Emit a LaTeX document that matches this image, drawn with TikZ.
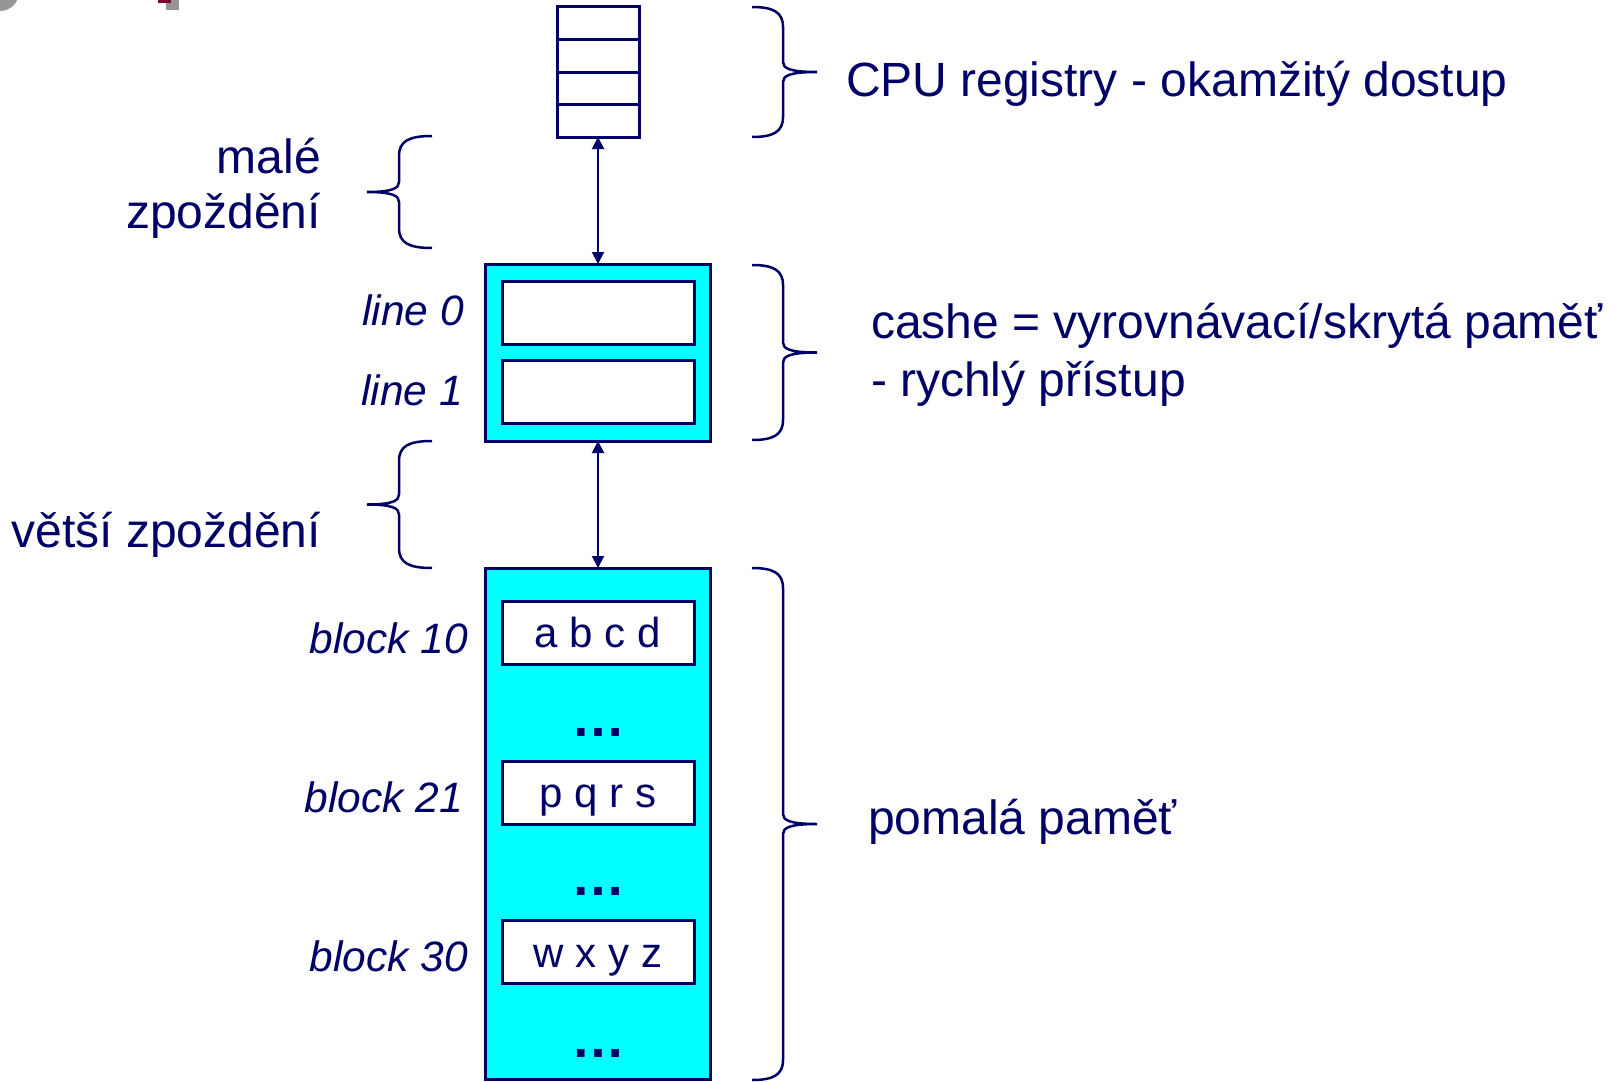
\documentclass[tikz,border=0pt]{standalone}
\usepackage{fontspec}
\setmainfont{Liberation Sans}
\usetikzlibrary{arrows.meta}
\definecolor{navy}{RGB}{0,0,102}
\definecolor{cyanfill}{RGB}{0,255,255}
\definecolor{artgray}{RGB}{150,150,150}
\definecolor{artred}{RGB}{128,0,48}
\newcommand{\mybrace}[7]{%
  \draw[brace] (#1,#4) .. controls ({#2-10*(#7)},#4) and (#2,{#4+5}) .. (#2,{#4+20})
    -- (#2,{#5-10}) .. controls (#2,{#5-4}) and ({#2+6*(#7)},#5) .. (#3,#5)
    .. controls ({#2+6*(#7)},#5) and (#2,{#5+4}) .. (#2,{#5+10})
    -- (#2,{#6-20}) .. controls (#2,{#6-5}) and ({#2-10*(#7)},#6) .. (#1,#6);}
\begin{document}
\begin{tikzpicture}[x=1pt,y=-1pt,
  every node/.style={text=navy, inner sep=0pt, outer sep=0pt},
  outerbox/.style={draw=navy, line width=3pt, fill=cyanfill, minimum width=225pt},
  cellbox/.style={draw=navy, line width=3pt, fill=white, minimum width=192pt, minimum height=63pt,
    text height=30pt, text depth=0pt, font=\fontsize{42}{50}\selectfont},
  regcell/.style={draw=navy, line width=3pt, fill=white, minimum width=82pt, minimum height=32.5pt},
  biglabel/.style={font=\fontsize{48}{58}\selectfont},
  itlabel/.style={font=\fontsize{42.5}{50}\selectfont\itshape, anchor=base east},
  brace/.style={draw=navy, line width=2.5pt},
  link/.style={draw=navy, line width=2pt, {Triangle[length=12pt,width=12pt]}-{Triangle[length=12pt,width=12pt]}},
  dotrow/.style={font=\fontsize{54}{60}\selectfont\bfseries, anchor=base}
]
\useasboundingbox (0,0) rectangle (1621,1081);
\begin{scope}
  \clip (0,0) rectangle (1621,1081);
  \fill[artgray] (0,-8) circle (19pt);
  \fill[artgray] (166,0) rectangle (179,10);
  \fill[artred] (158,0) rectangle (171,3);
\end{scope}
% registers
\node[regcell] (r1) at (598,23.25) {};
\node[regcell] (r2) at (598,55.75) {};
\node[regcell] (r3) at (598,88.25) {};
\node[regcell] (r4) at (598,120.75) {};
% cache
\node[outerbox, minimum height=177pt] (cache) at (598,352.5) {};
\node[cellbox] (l0) at (598,312.5) {};
\node[cellbox] (l1) at (598,392) {};
% memory
\node[outerbox, minimum height=511pt] (mem) at (598,823.5) {};
\node[cellbox] (b10) at (598,632.5) {a b c d};
\node[cellbox] (b21) at (598,792.5) {p q r s};
\node[cellbox] (b30) at (598,952) {w x y z};
\node[dotrow] (d1) at (598,736) {…};
\node[dotrow] (d2) at (598,895) {…};
\node[dotrow] (d3) at (598,1057) {…};
% connectors
\draw[link] (r4.south) -- (cache.north);
\draw[link] (cache.south) -- (mem.north);
% labels
\node[itlabel] (t0) at (464,325) {line 0};
\node[itlabel] (t1) at (463,405) {line 1};
\node[itlabel] (tb10) at (468,653) {block 10};
\node[itlabel] (tb21) at (463,812) {block 21};
\node[itlabel] (tb30) at (468,971) {block 30};
\node[biglabel, anchor=base east] (male) at (321,173) {malé};
\node[biglabel, anchor=base east] (zpo) at (321,228) {zpoždění};
\node[biglabel, anchor=base east] (vetsi) at (321,547) {větší zpoždění};
\node[biglabel, anchor=base west] (cpu) at (846,96) {CPU registry - okamžitý dostup};
\node[biglabel, anchor=base west] (cashe) at (871,338) {cashe = vyrovnávací/skrytá paměť};
\node[biglabel, anchor=base west] (rych) at (871,396) {- rychlý přístup};
\node[biglabel, anchor=base west] (pom) at (868,834) {pomalá paměť};
% braces
\mybrace{752}{783}{817}{7}{72}{137}{1}
\mybrace{752}{783}{817}{265}{352.5}{440}{1}
\mybrace{752}{783}{817}{568}{824}{1080}{1}
\mybrace{432}{399}{367}{136}{192}{248}{-1}
\mybrace{432}{399}{367}{441}{504.5}{568}{-1}
\end{tikzpicture}
\end{document}
